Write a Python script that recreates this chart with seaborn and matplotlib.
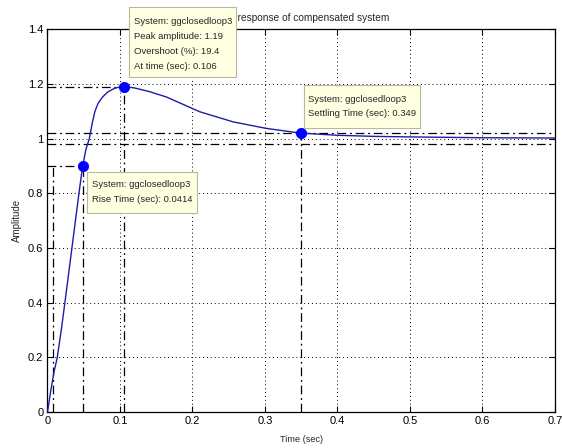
import matplotlib
matplotlib.use("Agg")
import matplotlib.pyplot as plt
from matplotlib.patches import Rectangle
from matplotlib.ticker import FormatStrFormatter
import seaborn as sns

# step response
time_s = [0, 0.004, 0.009, 0.0135, 0.019, 0.024, 0.0337, 0.0434, 0.0485, 0.053,
          0.0577, 0.062, 0.0655, 0.07, 0.076, 0.083, 0.092, 0.1, 0.106, 0.12,
          0.14, 0.164, 0.21, 0.256, 0.302, 0.349, 0.4, 0.45, 0.5, 0.6, 0.7]
amplitude = [0, 0.07, 0.147, 0.2, 0.3, 0.4, 0.6, 0.8, 0.9, 0.96,
             1.0, 1.06, 1.1, 1.13, 1.152, 1.17, 1.183, 1.189, 1.19, 1.185,
             1.172, 1.152, 1.098, 1.061, 1.037, 1.02, 1.012, 1.008, 1.006, 1.003, 1.002]

# characteristic points
t10, t90 = 0.0075, 0.0489
rise_time = 0.0414
peak_t, peak_amp, overshoot = 0.106, 1.19, 19.4
settle_t, settle_amp = 0.349, 1.02
band = [0.98, 1.02]
xticks = [0, 0.1, 0.2, 0.3, 0.4, 0.5, 0.6, 0.7]
yticks = [0, 0.2, 0.4, 0.6, 0.8, 1.0, 1.2, 1.4]

sns.set_style("white")
plt.rcParams['font.family'] = ['Liberation Sans', 'DejaVu Sans']

W, H = 562, 448
fig = plt.figure(figsize=(W / 100, H / 100), dpi=100)
ax = fig.add_axes([0.0845, 0.080, 0.903, 0.855])

dd = dict(color='black', lw=0.9, dashes=(7, 3, 1.5, 3))

# settling band
for b in band:
    ax.axhline(b, **dd, zorder=2)
ax.plot([settle_t, settle_t], [0, settle_amp], **dd, zorder=2)
# peak
ax.plot([peak_t, peak_t], [0, peak_amp], **dd, zorder=2)
ax.plot([0, peak_t], [peak_amp, peak_amp], **dd, zorder=2)
# rise
ax.plot([t10, t10], [0, 0.9], **dd, zorder=2)
ax.plot([t90, t90], [0, 0.9], **dd, zorder=2)
ax.plot([0, t90], [0.9, 0.9], **dd, zorder=2)

sns.lineplot(x=time_s, y=amplitude, ax=ax, color='#1c1ca8', lw=1.0, zorder=3)
sns.scatterplot(x=[t90, peak_t, settle_t], y=[0.9, peak_amp, settle_amp], ax=ax,
                color='#0000ff', s=55, edgecolor='#0000ff', zorder=4)

ax.set_xlim(0, 0.7)
ax.set_ylim(0, 1.4)
ax.set_xticks(xticks)
ax.set_yticks(yticks)
ax.xaxis.set_major_formatter(FormatStrFormatter('%g'))
ax.yaxis.set_major_formatter(FormatStrFormatter('%g'))
ax.grid(True, color='black', ls=(0, (1, 3)), lw=0.7)
ax.tick_params(direction='in', length=4, labelsize=8, colors='black', pad=3,
               top=True, right=True, bottom=True, left=True)
for s in ax.spines.values():
    s.set_color('black')
    s.set_linewidth(0.9)

ax.set_title('Step response of compensated system', fontsize=7.3, pad=6)
ax.set_xlabel('Time (sec)', fontsize=6.6, labelpad=6)
ax.set_ylabel('Amplitude', fontsize=7, labelpad=4)


def datatip(x0, y0, x1, y1, text, ytext, ls):
    # box in figure pixels from the top-left corner
    fig.patches.append(Rectangle((x0 / W, 1 - y1 / H), (x1 - x0) / W, (y1 - y0) / H,
                                 transform=fig.transFigure, fc='#ffffe1',
                                 ec='#b8b8a0', lw=0.8, zorder=9))
    fig.text((x0 + 4.5) / W, 1 - ytext / H, text, fontsize=6.8, va='center',
             ha='left', linespacing=ls, zorder=10)


datatip(129, 7, 236, 77,
        f'System: ggclosedloop3\nPeak amplitude: {peak_amp}\n'
        f'Overshoot (%): {overshoot}\nAt time (sec): {peak_t}', 44, 1.85)
datatip(87, 172, 197, 213,
        f'System: ggclosedloop3\nRise Time (sec): {rise_time}', 192, 1.95)
datatip(304, 85, 420, 128,
        f'System: ggclosedloop3\nSettling Time (sec): {settle_t}', 106.5, 1.85)

fig.savefig('out.png', dpi=100)
